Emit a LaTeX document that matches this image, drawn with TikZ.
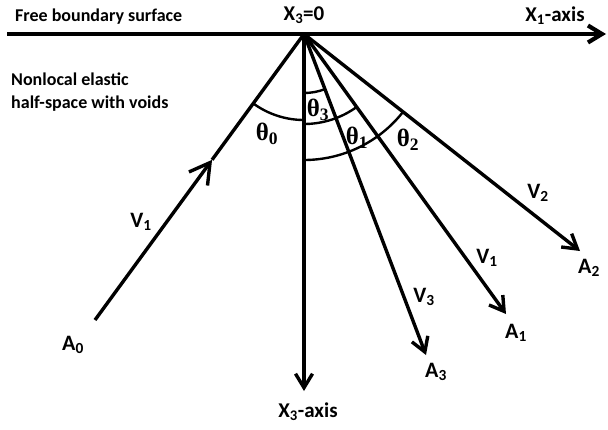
\documentclass[tikz,border=0pt]{standalone}
\usepackage{fontspec}
\setmainfont{Carlito}
\newfontfamily\grkfont{Liberation Serif}
\usetikzlibrary{arrows.meta,calc}

\begin{document}
\begin{tikzpicture}[x=1pt, y=1pt,
  surface/.style={line width=4.2pt, -{Straight Barb[length=14pt, width=17pt]}},
  ray/.style={line width=3.4pt, -{Straight Barb[length=14pt, width=17pt]}},
  inray/.style={line width=3.4pt},
  midtip/.style={line width=3.4pt, -{Straight Barb[length=20pt, width=23pt]}},
  anglearc/.style={line width=2.4pt},
  axlabel/.style={font=\fontsize{21}{22}\selectfont\bfseries, inner sep=0pt},
  txtlabel/.style={font=\fontsize{18}{22.5}\selectfont\bfseries, inner sep=0pt,
    anchor=west, align=left},
  ptlabel/.style={font=\fontsize{22}{24}\selectfont\bfseries, inner sep=0pt},
  thlabel/.style={font=\fontsize{25}{26}\selectfont\grkfont\bfseries, inner sep=0pt},
]
\useasboundingbox (0,0) rectangle (608,-429);

% ── Free boundary surface ────────────────────────────────────────────────────
\coordinate (O)   at (304,-34);
\coordinate (L)   at (7,-34);
\coordinate (R)   at (606,-34);
\draw[surface] (L) -- (R);
\node[txtlabel] (surf) at (15,-17) {Free boundary surface};
\node[axlabel]  (x3z)  at (304,-15) {X\textsubscript{3}=0};
\node[axlabel]  (x1ax) at (555,-16) {X\textsubscript{1}-axis};
\node[txtlabel] (medium) at (11,-92) {Nonlocal elastic\\half-space with voids};

% ── Depth axis ───────────────────────────────────────────────────────────────
\coordinate (D) at (304,-391);
\draw[ray] (O) -- (D);
\node[axlabel] (x3ax) at (308,-412) {X\textsubscript{3}-axis};

% ── Incident wave ────────────────────────────────────────────────────────────
\coordinate (A0) at (95,-320);
\coordinate (M)  at ($(A0)!0.56!(O)$);
\draw[midtip] (A0) -- (M);
\draw[inray]  (M) -- (O);
\node[ptlabel] (a0) at (73,-345) {A\textsubscript{0}};
\node[ptlabel] (v1i) at (141,-222) {V\textsubscript{1}};

% ── Reflected waves ──────────────────────────────────────────────────────────
\coordinate (A3) at (426,-355);
\coordinate (A1) at (506,-314);
\coordinate (A2) at (580,-251);
\draw[ray] (O) -- (A3);
\draw[ray] (O) -- (A1);
\draw[ray] (O) -- (A2);
\node[ptlabel] (a3) at (436,-372) {A\textsubscript{3}};
\node[ptlabel] (a1) at (516,-333) {A\textsubscript{1}};
\node[ptlabel] (a2) at (589,-268) {A\textsubscript{2}};
\node[ptlabel] (v3) at (424,-297) {V\textsubscript{3}};
\node[ptlabel] (v1) at (487,-258) {V\textsubscript{1}};
\node[ptlabel] (v2) at (538,-193) {V\textsubscript{2}};

% ── Angles ───────────────────────────────────────────────────────────────────
\draw[anglearc] ($(O)+(-126.4:86)$) arc[start angle=-126.4, end angle=-90, radius=86];
\draw[anglearc] ($(O)+(-90:59)$)    arc[start angle=-90, end angle=-68.9, radius=59];
\draw[anglearc] ($(O)+(-90:90)$)    arc[start angle=-90, end angle=-53.9, radius=90];
\draw[anglearc] ($(O)+(-90:126)$)   arc[start angle=-90, end angle=-38.0, radius=126];
\node[thlabel] (th0) at (267,-134) {θ\textsubscript{0}};
\node[thlabel] (th3) at (318,-110) {θ\textsubscript{3}};
\node[thlabel] (th1) at (357,-138) {θ\textsubscript{1}};
\node[thlabel] (th2) at (408,-140) {θ\textsubscript{2}};

\end{tikzpicture}
\end{document}
